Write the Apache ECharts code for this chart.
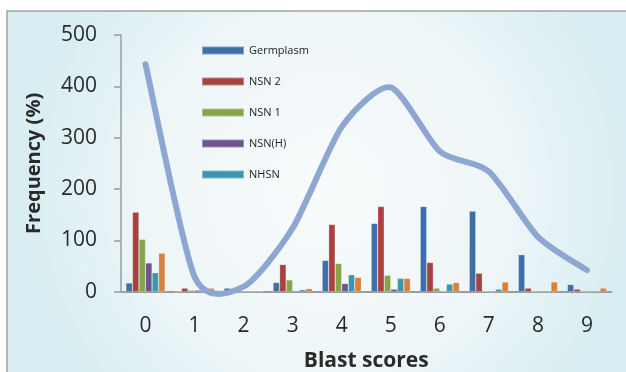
<!DOCTYPE html>
<html>
<head>
<meta charset="utf-8">
<script src="https://cdn.jsdelivr.net/npm/echarts@6/dist/echarts.min.js"></script>
<style>html,body{margin:0;padding:0;background:#fff;}#c{width:626px;height:372px;}</style>
</head>
<body>
<div id="c"></div>
<script>
var categories = ['0','1','2','3','4','5','6','7','8','9'];
var germplasm = [17, 0, 7, 18, 61, 133, 166, 157, 72, 14];
var nsn2 = [155, 7, 0, 53, 131, 166, 57, 36, 7, 5];
var nsn1 = [102, 3, 0, 23, 55, 32, 7, 1, 0, 0];
var nsnH = [56, 3, 0, 2, 16, 5, 1, 0, 0, 0];
var nhsn = [37, 2, 0, 4, 33, 26, 15, 5, 0, 1];
var hsn = [75, 7, 1, 6, 28, 26, 18, 19, 19, 7];
var total = [443, 29, 10, 124, 321, 398, 273, 234, 107, 42];
var yTicks = [0, 100, 200, 300, 400, 500];

var FONT = '"Open Sans", "Noto Sans", sans-serif';
var chart = echarts.init(document.getElementById('c'), null, {renderer: 'canvas'});

function bar(name, data, color) {
  return {
    name: name, type: 'bar', data: data, barGap: '0%', barCategoryGap: '20%',
    itemStyle: {color: color, borderColor: 'rgba(255,255,255,0.35)', borderWidth: 0.6},
    z: 2
  };
}

// Excel-style smoothed line drawn through the axis scales (api.coord)
function renderSmooth(params, api) {
  if (params.dataIndex !== 0) return null;
  var pts = total.map(function (v, i) { return api.coord([i, v]); });
  var f = 0.12;
  var d = 'M' + pts[0][0] + ' ' + pts[0][1];
  for (var i = 0; i < pts.length - 1; i++) {
    var p0 = pts[i - 1] || pts[i], p1 = pts[i], p2 = pts[i + 1], p3 = pts[i + 2] || pts[i + 1];
    var c1x = p1[0] + (p2[0] - p0[0]) * f, c1y = p1[1] + (p2[1] - p0[1]) * f;
    var c2x = p2[0] - (p3[0] - p1[0]) * f, c2y = p2[1] - (p3[1] - p1[1]) * f;
    d += ' C' + c1x + ' ' + c1y + ' ' + c2x + ' ' + c2y + ' ' + p2[0] + ' ' + p2[1];
  }
  return {
    type: 'path', shape: {pathData: d},
    style: {fill: 'none', stroke: '#8EA6D2', lineWidth: 6, lineCap: 'round', lineJoin: 'round'}
  };
}

chart.setOption({
  animation: false,
  graphic: [{
    type: 'rect', z: -10, silent: true,
    shape: {x: 7, y: 11, width: 640, height: 400},
    style: {
      fill: {
        type: 'radial', x: 0.5, y: 0.45, r: 0.75,
        colorStops: [{offset: 0, color: '#F8FBFC'}, {offset: 0.6, color: '#EEF6F8'}, {offset: 1, color: '#D9EEF2'}]
      },
      stroke: '#A3A3A3', lineWidth: 1.5
    }
  }],
  grid: {left: 121, right: 14.5, top: 35, bottom: 80.3, containLabel: false, outerBoundsMode: 'none'},
  legend: {
    show: true, orient: 'vertical', left: 196, top: 40,
    itemWidth: 42, itemHeight: 8, itemGap: 20, icon: 'rect',
    data: ['Germplasm', 'NSN 2', 'NSN 1', 'NSN(H)', 'NHSN'],
    textStyle: {fontFamily: FONT, fontSize: 11, color: '#222'}
  },
  xAxis: {
    type: 'category', data: categories,
    name: 'Blast scores', nameLocation: 'middle', nameGap: 59,
    nameTextStyle: {fontFamily: FONT, fontSize: 21, fontWeight: 'bold', color: '#2a2a2a'},
    axisLine: {lineStyle: {color: '#9C9C9C', width: 2}},
    axisTick: {show: false},
    axisLabel: {fontFamily: FONT, fontSize: 21, color: '#2a2a2a', margin: 24}
  },
  yAxis: {
    type: 'value', min: yTicks[0], max: yTicks[yTicks.length - 1], interval: 100,
    name: 'Frequency (%)', nameLocation: 'middle', nameGap: 77, nameRotate: 90,
    nameTextStyle: {fontFamily: FONT, fontSize: 20, fontWeight: 'bold', color: '#2a2a2a'},
    axisLine: {show: true, lineStyle: {color: '#9C9C9C', width: 1.5}},
    axisTick: {show: true, inside: false, length: 7, lineStyle: {color: '#9C9C9C', width: 1.5}},
    splitLine: {show: false},
    axisLabel: {fontFamily: FONT, fontSize: 21, color: '#2a2a2a', margin: 24}
  },
  series: [
    bar('Germplasm', germplasm, '#3F6FA8'),
    bar('NSN 2', nsn2, '#A8423F'),
    bar('NSN 1', nsn1, '#86A44A'),
    bar('NSN(H)', nsnH, '#6E548D'),
    bar('NHSN', nhsn, '#3D96AE'),
    bar('HSN', hsn, '#DA8137'),
    {
      name: 'Total', type: 'custom', data: total.map(function (v, i) { return [i, v]; }),
      renderItem: renderSmooth, clip: false, z: 5, silent: true
    }
  ]
});
</script>
</body>
</html>
